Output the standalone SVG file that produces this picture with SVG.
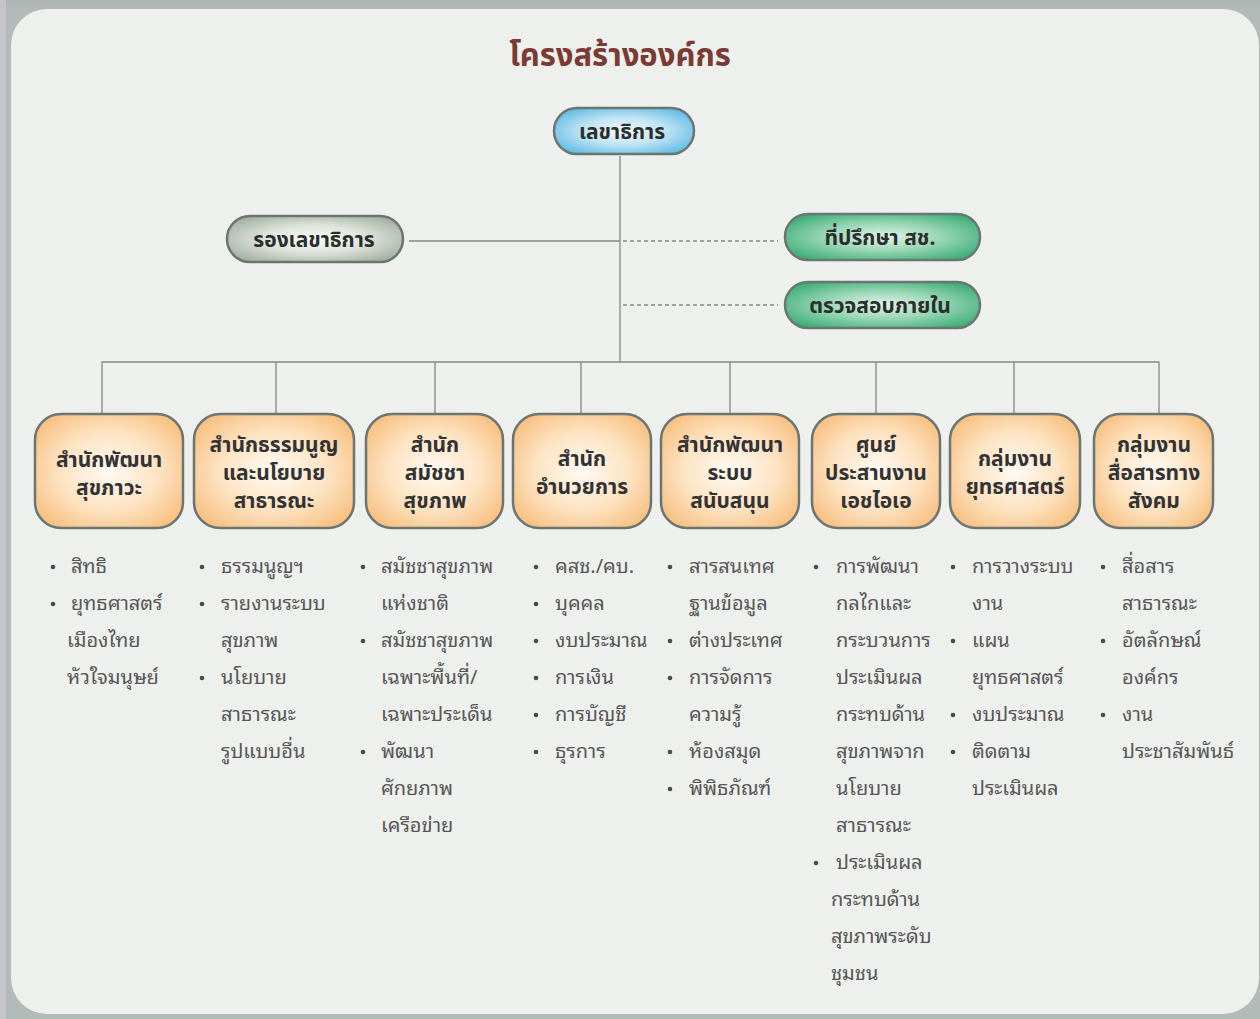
<svg xmlns="http://www.w3.org/2000/svg" width="1260" height="1019" viewBox="0 0 1260 1019">
<defs>
<linearGradient id="frame" x1="0" y1="0" x2="0" y2="1">
<stop offset="0" stop-color="#aeb3b3"/><stop offset="0.01" stop-color="#b2bbb7"/><stop offset="1" stop-color="#b2bbb7"/>
</linearGradient>
<radialGradient id="gOrange" cx="0.5" cy="0.5" r="0.62">
<stop offset="0" stop-color="#fffaf3"/><stop offset="0.55" stop-color="#fde3c2"/><stop offset="1" stop-color="#f8bf7f"/>
</radialGradient>
<radialGradient id="gBlue" cx="0.5" cy="0.5" r="0.6">
<stop offset="0" stop-color="#f2fafd"/><stop offset="0.5" stop-color="#bfe3f3"/><stop offset="1" stop-color="#5dbbe5"/>
</radialGradient>
<radialGradient id="gGray" cx="0.5" cy="0.5" r="0.6">
<stop offset="0" stop-color="#fbfcfa"/><stop offset="0.5" stop-color="#dde3da"/><stop offset="1" stop-color="#a4afa2"/>
</radialGradient>
<radialGradient id="gGreen" cx="0.5" cy="0.5" r="0.6">
<stop offset="0" stop-color="#e4f5ec"/><stop offset="0.5" stop-color="#98d6b4"/><stop offset="1" stop-color="#3fae78"/>
</radialGradient>
</defs>
<style>
.node{stroke:#6b7672;stroke-width:2.5}
.pill{font-family:"Noto Sans Thai","Noto Sans",sans-serif;font-weight:bold;font-size:21px;fill:#2a2f2d;text-anchor:middle}
.box{font-family:"Noto Sans Thai","Noto Sans",sans-serif;font-weight:bold;font-size:21px;fill:#333333;text-anchor:middle}
.lst{font-family:"Noto Sans Thai Looped","Loma","Garuda","Noto Sans Thai",sans-serif;font-size:20px;fill:#575757}
.dot{fill:#4a4a4a}
.ln{stroke:#7f8a86;stroke-width:1.3;fill:none}
.dash{stroke:#7f8a86;stroke-width:1.3;fill:none;stroke-dasharray:4 3}
</style>
<rect x="0" y="0" width="1260" height="1019" fill="url(#frame)"/>
<rect x="0" y="0" width="6" height="1019" fill="#c4c4ca"/>
<rect x="11" y="9" width="1248" height="1005" rx="36" ry="36" fill="#eef0ed"/>

<text x="620" y="66" font-family="Noto Sans Thai, Noto Sans, sans-serif" font-weight="bold" font-size="31" fill="#7b3a34" text-anchor="middle">โครงสร้างองค์กร</text>

<g id="connectors">
<line class="ln" x1="620" y1="156" x2="620" y2="362"/>
<line class="ln" x1="409" y1="241" x2="620" y2="241"/>
<line class="dash" x1="623" y1="241" x2="778" y2="241"/>
<line class="dash" x1="623" y1="305" x2="778" y2="305"/>
<polyline class="ln" points="102,414 102,362 1159,362 1159,414"/>
<line class="ln" x1="276" y1="362" x2="276" y2="414"/>
<line class="ln" x1="435" y1="362" x2="435" y2="414"/>
<line class="ln" x1="581" y1="362" x2="581" y2="414"/>
<line class="ln" x1="730" y1="362" x2="730" y2="414"/>
<line class="ln" x1="876" y1="362" x2="876" y2="414"/>
<line class="ln" x1="1014" y1="362" x2="1014" y2="414"/>
</g>

<g id="n-secretary">
<rect class="node" x="554" y="108" width="140" height="46" rx="23" fill="url(#gBlue)"/>
<text class="pill" x="622" y="139">เลขาธิการ</text>
</g>
<g id="n-deputy">
<rect class="node" x="227" y="216" width="176" height="46" rx="23" fill="url(#gGray)"/>
<text class="pill" x="314" y="247">รองเลขาธิการ</text>
</g>
<g id="n-advisor">
<rect class="node" x="785" y="214" width="195" height="46" rx="23" fill="url(#gGreen)"/>
<text class="pill" x="880" y="245">ที่ปรึกษา สช.</text>
</g>
<g id="n-audit">
<rect class="node" x="785" y="282" width="195" height="46" rx="23" fill="url(#gGreen)"/>
<text class="pill" x="880" y="313">ตรวจสอบภายใน</text>
</g>

<g id="n-wellbeing">
<rect class="node" x="35" y="414" width="148" height="114" rx="26" fill="url(#gOrange)"/>
<text class="box" x="109" y="467">สำนักพัฒนา</text>
<text class="box" x="109" y="495">สุขภาวะ</text>
</g>
<g id="n-charter">
<rect class="node" x="194" y="414" width="160" height="114" rx="26" fill="url(#gOrange)"/>
<text class="box" x="274" y="452">สำนักธรรมนูญ</text>
<text class="box" x="274" y="480">และนโยบาย</text>
<text class="box" x="274" y="508">สาธารณะ</text>
</g>
<g id="n-assembly">
<rect class="node" x="366" y="414" width="137" height="114" rx="26" fill="url(#gOrange)"/>
<text class="box" x="435" y="452">สำนัก</text>
<text class="box" x="435" y="480">สมัชชา</text>
<text class="box" x="435" y="508">สุขภาพ</text>
</g>
<g id="n-admin">
<rect class="node" x="513" y="414" width="138" height="114" rx="26" fill="url(#gOrange)"/>
<text class="box" x="582" y="466">สำนัก</text>
<text class="box" x="582" y="494">อำนวยการ</text>
</g>
<g id="n-support">
<rect class="node" x="661" y="414" width="138" height="114" rx="26" fill="url(#gOrange)"/>
<text class="box" x="730" y="452">สำนักพัฒนา</text>
<text class="box" x="730" y="480">ระบบ</text>
<text class="box" x="730" y="508">สนับสนุน</text>
</g>
<g id="n-hia">
<rect class="node" x="812" y="414" width="128" height="114" rx="26" fill="url(#gOrange)"/>
<text class="box" x="876" y="452">ศูนย์</text>
<text class="box" x="876" y="480">ประสานงาน</text>
<text class="box" x="876" y="508">เอชไอเอ</text>
</g>
<g id="n-strategy">
<rect class="node" x="950" y="414" width="130" height="114" rx="26" fill="url(#gOrange)"/>
<text class="box" x="1015" y="466">กลุ่มงาน</text>
<text class="box" x="1015" y="494">ยุทธศาสตร์</text>
</g>
<g id="n-comm">
<rect class="node" x="1094" y="414" width="119" height="114" rx="26" fill="url(#gOrange)"/>
<text class="box" x="1154" y="452">กลุ่มงาน</text>
<text class="box" x="1154" y="480">สื่อสารทาง</text>
<text class="box" x="1154" y="508">สังคม</text>
</g>

<g id="list-wellbeing">
<circle class="dot" cx="53" cy="567" r="2.3"/><circle class="dot" cx="53" cy="604" r="2.3"/>
<text class="lst" x="71" y="573">สิทธิ</text>
<text class="lst" x="71" y="610">ยุทธศาสตร์</text>
<text class="lst" x="67" y="647">เมืองไทย</text>
<text class="lst" x="67" y="684">หัวใจมนุษย์</text>
</g>
<g id="list-charter">
<circle class="dot" cx="202" cy="567" r="2.3"/><circle class="dot" cx="202" cy="604" r="2.3"/><circle class="dot" cx="202" cy="678" r="2.3"/>
<text class="lst" x="221" y="573">ธรรมนูญฯ</text>
<text class="lst" x="221" y="610">รายงานระบบ</text>
<text class="lst" x="221" y="647">สุขภาพ</text>
<text class="lst" x="221" y="684">นโยบาย</text>
<text class="lst" x="221" y="721">สาธารณะ</text>
<text class="lst" x="221" y="758">รูปแบบอื่น</text>
</g>
<g id="list-assembly">
<circle class="dot" cx="363" cy="567" r="2.3"/><circle class="dot" cx="363" cy="641" r="2.3"/><circle class="dot" cx="363" cy="752" r="2.3"/>
<text class="lst" x="381" y="573">สมัชชาสุขภาพ</text>
<text class="lst" x="381" y="610">แห่งชาติ</text>
<text class="lst" x="381" y="647">สมัชชาสุขภาพ</text>
<text class="lst" x="381" y="684">เฉพาะพื้นที่/</text>
<text class="lst" x="381" y="721">เฉพาะประเด็น</text>
<text class="lst" x="381" y="758">พัฒนา</text>
<text class="lst" x="381" y="795">ศักยภาพ</text>
<text class="lst" x="381" y="832">เครือข่าย</text>
</g>
<g id="list-admin">
<circle class="dot" cx="536" cy="567" r="2.3"/><circle class="dot" cx="536" cy="604" r="2.3"/><circle class="dot" cx="536" cy="641" r="2.3"/><circle class="dot" cx="536" cy="678" r="2.3"/><circle class="dot" cx="536" cy="715" r="2.3"/><circle class="dot" cx="536" cy="752" r="2.3"/>
<text class="lst" x="555" y="573">คสช./คบ.</text>
<text class="lst" x="555" y="610">บุคคล</text>
<text class="lst" x="555" y="647">งบประมาณ</text>
<text class="lst" x="555" y="684">การเงิน</text>
<text class="lst" x="555" y="721">การบัญชี</text>
<text class="lst" x="555" y="758">ธุรการ</text>
</g>
<g id="list-support">
<circle class="dot" cx="670" cy="567" r="2.3"/><circle class="dot" cx="670" cy="641" r="2.3"/><circle class="dot" cx="670" cy="678" r="2.3"/><circle class="dot" cx="670" cy="752" r="2.3"/><circle class="dot" cx="670" cy="789" r="2.3"/>
<text class="lst" x="689" y="573">สารสนเทศ</text>
<text class="lst" x="689" y="610">ฐานข้อมูล</text>
<text class="lst" x="689" y="647">ต่างประเทศ</text>
<text class="lst" x="689" y="684">การจัดการ</text>
<text class="lst" x="689" y="721">ความรู้</text>
<text class="lst" x="689" y="758">ห้องสมุด</text>
<text class="lst" x="689" y="795">พิพิธภัณฑ์</text>
</g>
<g id="list-hia">
<circle class="dot" cx="816" cy="567" r="2.3"/><circle class="dot" cx="816" cy="863" r="2.3"/>
<text class="lst" x="836" y="573">การพัฒนา</text>
<text class="lst" x="836" y="610">กลไกและ</text>
<text class="lst" x="836" y="647">กระบวนการ</text>
<text class="lst" x="836" y="684">ประเมินผล</text>
<text class="lst" x="836" y="721">กระทบด้าน</text>
<text class="lst" x="836" y="758">สุขภาพจาก</text>
<text class="lst" x="836" y="795">นโยบาย</text>
<text class="lst" x="836" y="832">สาธารณะ</text>
<text class="lst" x="836" y="869">ประเมินผล</text>
<text class="lst" x="831" y="906">กระทบด้าน</text>
<text class="lst" x="831" y="943">สุขภาพระดับ</text>
<text class="lst" x="831" y="980">ชุมชน</text>
</g>
<g id="list-strategy">
<circle class="dot" cx="953" cy="567" r="2.3"/><circle class="dot" cx="953" cy="641" r="2.3"/><circle class="dot" cx="953" cy="715" r="2.3"/><circle class="dot" cx="953" cy="752" r="2.3"/>
<text class="lst" x="972" y="573">การวางระบบ</text>
<text class="lst" x="972" y="610">งาน</text>
<text class="lst" x="972" y="647">แผน</text>
<text class="lst" x="972" y="684">ยุทธศาสตร์</text>
<text class="lst" x="972" y="721">งบประมาณ</text>
<text class="lst" x="972" y="758">ติดตาม</text>
<text class="lst" x="972" y="795">ประเมินผล</text>
</g>
<g id="list-comm">
<circle class="dot" cx="1103" cy="567" r="2.3"/><circle class="dot" cx="1103" cy="641" r="2.3"/><circle class="dot" cx="1103" cy="715" r="2.3"/>
<text class="lst" x="1122" y="573">สื่อสาร</text>
<text class="lst" x="1122" y="610">สาธารณะ</text>
<text class="lst" x="1122" y="647">อัตลักษณ์</text>
<text class="lst" x="1122" y="684">องค์กร</text>
<text class="lst" x="1122" y="721">งาน</text>
<text class="lst" x="1122" y="758">ประชาสัมพันธ์</text>
</g>
</svg>
